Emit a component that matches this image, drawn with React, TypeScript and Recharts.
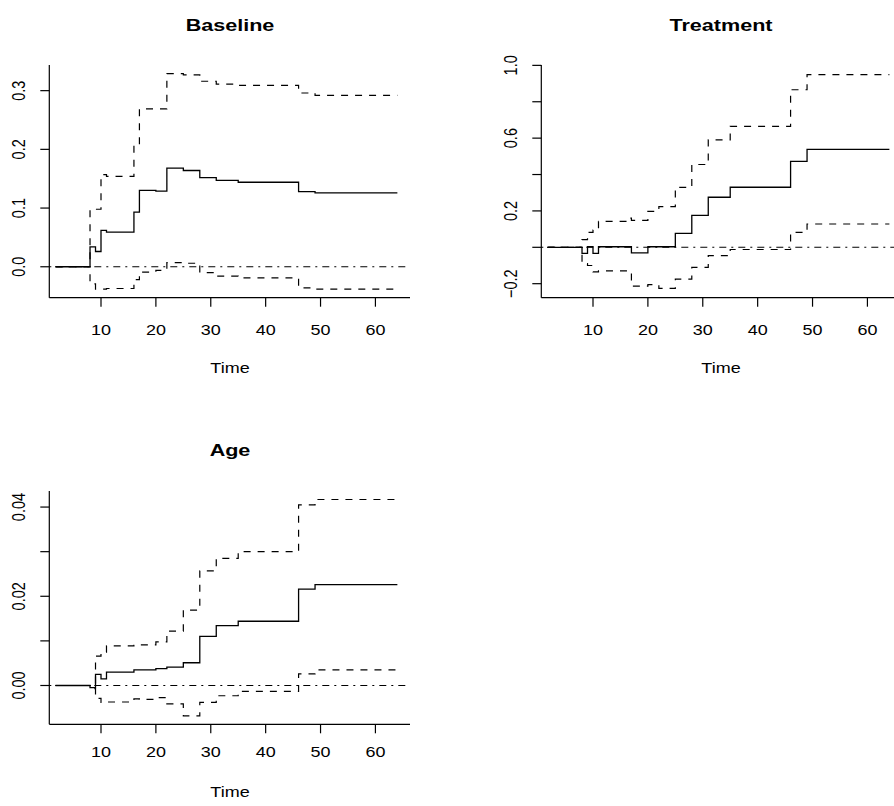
import { Line, LineChart, ReferenceLine, XAxis, YAxis } from "recharts";

// event times shared by the three panels
const times = [1.7, 8, 9, 10, 11, 16, 17, 20, 22, 25, 28, 31, 35, 46, 49, 64];

const baselineEst = [0, 0.034, 0.026, 0.062, 0.059, 0.093, 0.13, 0.129, 0.168, 0.164, 0.152, 0.147, 0.144, 0.128, 0.126, 0.126];
const baselineUpper = [0, 0.098, 0.098, 0.157, 0.154, 0.207, 0.269, 0.269, 0.329, 0.327, 0.316, 0.311, 0.309, 0.296, 0.292, 0.292];
const baselineLower = [0, -0.029, -0.038, -0.038, -0.037, -0.022, -0.009, -0.006, 0.007, 0.006, -0.01, -0.016, -0.019, -0.036, -0.038, -0.038];

const treatmentEst = [0, -0.033, 0.003, -0.033, 0.003, 0.003, -0.031, 0.003, 0.003, 0.077, 0.175, 0.275, 0.33, 0.472, 0.538, 0.538];
const treatmentUpper = [0, 0.042, 0.082, 0.095, 0.142, 0.16, 0.148, 0.197, 0.224, 0.329, 0.455, 0.591, 0.665, 0.866, 0.949, 0.949];
const treatmentLower = [0, -0.09, -0.1, -0.135, -0.13, -0.13, -0.213, -0.205, -0.226, -0.175, -0.11, -0.046, -0.012, 0.082, 0.128, 0.128];

const ageEst = [0, -0.0005, 0.0025, 0.0015, 0.003, 0.0035, 0.0035, 0.0038, 0.0041, 0.0051, 0.011, 0.0134, 0.0144, 0.0216, 0.0226, 0.0226];
const ageUpper = [0, 0.0003, 0.0066, 0.0075, 0.0089, 0.009, 0.0091, 0.0098, 0.0122, 0.0169, 0.0257, 0.0285, 0.03, 0.0405, 0.0417, 0.0417];
const ageLower = [0, -0.0007, -0.0029, -0.0038, -0.0037, -0.003, -0.0031, -0.0027, -0.0041, -0.0068, -0.0038, -0.0023, -0.0013, 0.0026, 0.0035, 0.0035];

const xTicks = [10, 20, 30, 40, 50, 60];
const baselineYTicks = [0, 0.1, 0.2, 0.3];
const baselineYLabels = ["0.0", "0.1", "0.2", "0.3"];
const treatmentYTicks = [-0.2, 0, 0.2, 0.4, 0.6, 0.8, 1.0];
const treatmentYLabels = ["\u22120.2", "", "0.2", "", "0.6", "", "1.0"];
const ageYTicks = [0, 0.01, 0.02, 0.03, 0.04];
const ageYLabels = ["0.00", "", "0.02", "", "0.04"];

const FONT = "'Liberation Sans', Arial, Helvetica, sans-serif";
const SX = 1.24; // text in the reference is stretched sideways
const TICK_FONT = 14.5;
const X_DOMAIN: [number, number] = [0.58, 66.3];
const CHART_W = 440;
const CHART_H = 410;
const PLOT_LEFT = 49.3;
const PLOT_TOP = 65;
const PLOT_W = 360.7;
const TICK = 9;

type PanelProps = {
  title: string;
  est: number[];
  lower: number[];
  upper: number[];
  yDomain: [number, number];
  yTicks: number[];
  yLabels: string[];
  left: number;
  top: number;
  plotH: number;
  xLabelGap: number;
  timeGap: number;
};

function Panel({ title, est, lower, upper, yDomain, yTicks, yLabels, left, top, plotH, xLabelGap, timeGap }: PanelProps) {
  const data = times.map((t, i) => ({ time: t, est: est[i], lower: lower[i], upper: upper[i] }));
  const centerX = left + PLOT_LEFT + PLOT_W / 2;
  const plotBottom = top + PLOT_TOP + plotH;

  const renderXTick = (props: any) => {
    const { x, y, payload } = props;
    return (
      <g transform={`translate(${x},${y + xLabelGap - TICK}) scale(${SX},1)`}>
        <text textAnchor="middle" dominantBaseline="central" fontSize={TICK_FONT} fontFamily={FONT} fill="#000">
          {payload.value}
        </text>
      </g>
    );
  };

  const renderYTick = (props: any) => {
    const { x, y, payload } = props;
    const idx = yTicks.findIndex((t) => Math.abs(t - payload.value) < 1e-9);
    const label = idx >= 0 ? yLabels[idx] : "";
    if (!label) return <g />;
    return (
      <g transform={`translate(${x - 22},${y}) scale(${SX},1) rotate(-90)`}>
        <text textAnchor="middle" dominantBaseline="central" fontSize={TICK_FONT} fontFamily={FONT} fill="#000">
          {label}
        </text>
      </g>
    );
  };

  const textStyle = (cx: number, cy: number, size: number, bold: boolean) => ({
    position: "absolute" as const,
    left: cx,
    top: cy,
    transform: `translate(-50%, -50%) scaleX(${SX})`,
    fontFamily: FONT,
    fontSize: size,
    fontWeight: bold ? 700 : 400,
    whiteSpace: "nowrap" as const,
    color: "#000",
  });

  return (
    <>
      <div style={{ position: "absolute", left, top }}>
        <LineChart
          width={CHART_W}
          height={CHART_H}
          data={data}
          margin={{ top: PLOT_TOP, left: PLOT_LEFT - 40, right: CHART_W - PLOT_LEFT - PLOT_W, bottom: CHART_H - PLOT_TOP - plotH - 40 }}
        >
          <XAxis
            dataKey="time"
            type="number"
            domain={X_DOMAIN}
            ticks={xTicks}
            height={40}
            tickSize={TICK}
            tickMargin={0}
            tick={renderXTick}
            axisLine={{ stroke: "#000", strokeWidth: 1.2 }}
            tickLine={{ stroke: "#000", strokeWidth: 1.2 }}
          />
          <XAxis
            xAxisId="top"
            orientation="top"
            type="number"
            domain={X_DOMAIN}
            height={0}
            tick={false}
            tickLine={false}
            axisLine={{ stroke: "#000", strokeWidth: 1.2 }}
          />
          <YAxis
            type="number"
            domain={yDomain}
            ticks={yTicks}
            width={40}
            tickSize={TICK}
            tickMargin={0}
            tick={renderYTick}
            axisLine={{ stroke: "#000", strokeWidth: 1.2 }}
            tickLine={{ stroke: "#000", strokeWidth: 1.2 }}
          />
          <YAxis
            yAxisId="right"
            orientation="right"
            type="number"
            domain={yDomain}
            width={0}
            tick={false}
            tickLine={false}
            axisLine={{ stroke: "#000", strokeWidth: 1.2 }}
          />
          <ReferenceLine y={0} stroke="#000" strokeWidth={1.1} strokeDasharray="2 5 7 5" />
          <Line type="stepAfter" dataKey="est" stroke="#000" strokeWidth={1.3} dot={false} isAnimationActive={false} />
          <Line type="stepAfter" dataKey="upper" stroke="#000" strokeWidth={1.2} strokeDasharray="7 7" dot={false} isAnimationActive={false} />
          <Line type="stepAfter" dataKey="lower" stroke="#000" strokeWidth={1.2} strokeDasharray="7 7" dot={false} isAnimationActive={false} />
        </LineChart>
      </div>
      <div style={textStyle(centerX, top + 24.5, 17.4, true)}>{title}</div>
      <div style={textStyle(centerX, plotBottom + timeGap, TICK_FONT, false)}>Time</div>
    </>
  );
}

export default function App() {
  return (
    <div style={{ position: "absolute", left: 0, top: 0, width: 894, height: 806, overflow: "hidden", background: "#fff" }}>
      <Panel
        title="Baseline"
        est={baselineEst}
        lower={baselineLower}
        upper={baselineUpper}
        yDomain={[-0.0527, 0.3437]}
        yTicks={baselineYTicks}
        yLabels={baselineYLabels}
        left={0}
        top={0}
        plotH={232.7}
        xLabelGap={32.3}
        timeGap={70}
      />
      <Panel
        title="Treatment"
        est={treatmentEst}
        lower={treatmentLower}
        upper={treatmentUpper}
        yDomain={[-0.277, 1.002]}
        yTicks={treatmentYTicks}
        yLabels={treatmentYLabels}
        left={491.7}
        top={0}
        plotH={232.7}
        xLabelGap={32.3}
        timeGap={70}
      />
      <Panel
        title="Age"
        est={ageEst}
        lower={ageLower}
        upper={ageUpper}
        yDomain={[-0.0087, 0.0436]}
        yTicks={ageYTicks}
        yLabels={ageYLabels}
        left={0}
        top={425.7}
        plotH={233.3}
        xLabelGap={27.5}
        timeGap={68}
      />
    </div>
  );
}
